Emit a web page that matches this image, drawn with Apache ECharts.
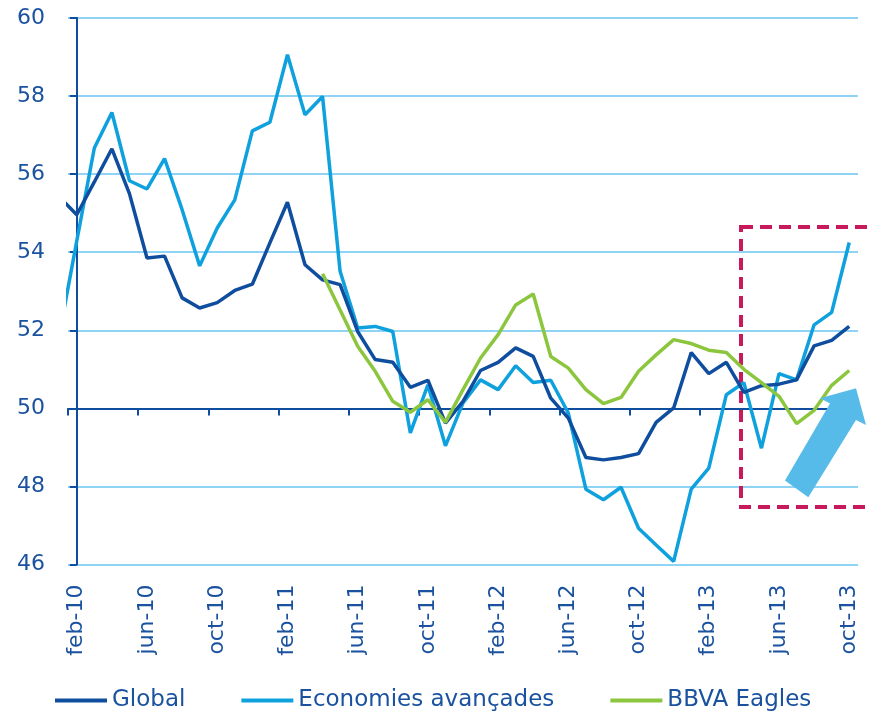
<!DOCTYPE html>
<html>
<head>
<meta charset="utf-8">
<script src="https://cdn.jsdelivr.net/npm/echarts@6/dist/echarts.min.js"></script>
<style>
  html, body { margin: 0; padding: 0; background: #fff; }
  #chart { width: 872px; height: 714px; }
</style>
</head>
<body>
<div id="chart"></div>
<script>
// months, first one (jan-10) sits just left of the plot and is clipped
var months = ['jan-10',
  'feb-10', 'mar-10', 'apr-10', 'may-10', 'jun-10', 'jul-10', 'aug-10', 'sep-10', 'oct-10', 'nov-10', 'dec-10',
  'jan-11', 'feb-11', 'mar-11', 'apr-11', 'may-11', 'jun-11', 'jul-11', 'aug-11', 'sep-11', 'oct-11', 'nov-11', 'dec-11',
  'jan-12', 'feb-12', 'mar-12', 'apr-12', 'may-12', 'jun-12', 'jul-12', 'aug-12', 'sep-12', 'oct-12', 'nov-12', 'dec-12',
  'jan-13', 'feb-13', 'mar-13', 'apr-13', 'may-13', 'jun-13', 'jul-13', 'aug-13', 'sep-13', 'oct-13'];

var seriesNames = ['Global', 'Economies avançades', 'BBVA Eagles'];

var globalPmi = [55.42,
  54.96, 55.80, 56.65, 55.50, 53.85, 53.90, 52.83, 52.57, 52.71, 53.02, 53.18,
  54.24, 55.28, 53.68, 53.29, 53.17, 51.97, 51.25, 51.18, 50.54, 50.72, 49.62, 50.18,
  50.97, 51.18, 51.55, 51.33, 50.26, 49.75, 48.74, 48.68, 48.74, 48.84, 49.64, 50.01,
  51.43, 50.89, 51.18, 50.41, 50.58, 50.62, 50.73, 51.60, 51.74, 52.10];

var advancedPmi = [51.87,
  54.29, 56.67, 57.58, 55.83, 55.62, 56.40, 55.09, 53.65, 54.62, 55.34, 57.11,
  57.33, 59.06, 57.52, 57.99, 53.51, 52.06, 52.10, 51.97, 49.37, 50.60, 49.04, 50.14,
  50.73, 50.48, 51.09, 50.66, 50.72, 49.88, 47.93, 47.66, 47.98, 46.93, 46.50, 46.08,
  47.93, 48.47, 50.35, 50.66, 48.98, 50.89, 50.73, 52.14, 52.46, 54.25];

var eaglesPmi = [null,
  null, null, null, null, null, null, null, null, null, null, null,
  null, null, null, 53.45, 52.52, 51.59, 50.95, 50.18, 49.90, 50.22, 49.64, 50.48,
  51.29, 51.89, 52.65, 52.93, 51.33, 51.03, 50.48, 50.12, 50.28, 50.95, 51.37, 51.76,
  51.66, 51.49, 51.43, 51.00, 50.66, 50.31, 49.61, 49.95, 50.59, 50.97];

var yTicks = [46, 48, 50, 52, 54, 56, 58, 60];

var darkBlue = '#0f4e9e';
var lightBlue = '#0ea1de';
var green = '#8cc63f';
var textBlue = '#1a52a0';
var gridBlue = '#8fd4f4';

// index -1 = jan-10, 0 = feb-10 ...
function toPoints(arr) {
  return arr.map(function (v, i) { return [i - 1, v]; });
}

var chart = echarts.init(document.getElementById('chart'), null, { renderer: 'canvas' });

var option = {
  animation: false,
  backgroundColor: '#fff',
  textStyle: { fontFamily: 'DejaVu Sans' },
  grid: {
    left: 68,
    right: 14,
    top: 18,
    bottom: 149.5,
    containLabel: false,
    outerBoundsMode: 'none'
  },
  legend: {
    left: 50,
    top: 684,
    icon: 'rect',
    itemWidth: 52,
    itemHeight: 4,
    itemGap: 56,
    textStyle: { fontSize: 23, color: textBlue, fontFamily: 'DejaVu Sans' },
    data: seriesNames
  },
  xAxis: [
    {
      // labels only
      type: 'category',
      data: months.slice(1),
      boundaryGap: true,
      position: 'bottom',
      axisLine: { show: false },
      axisTick: { show: false },
      splitLine: { show: false },
      axisLabel: {
        interval: 3,
        rotate: 90,
        margin: 20,
        fontSize: 22,
        color: textBlue,
        fontFamily: 'DejaVu Sans'
      }
    },
    {
      // axis line + ticks crossing at 50
      type: 'category',
      data: months.slice(1),
      boundaryGap: true,
      position: 'bottom',
      offset: -156,
      axisLine: { show: true, lineStyle: { color: darkBlue, width: 2 } },
      axisTick: { show: true, interval: 3, length: 7, lineStyle: { color: darkBlue, width: 2 } },
      axisLabel: { show: false },
      splitLine: { show: false }
    },
    {
      // hidden axis the lines are drawn on
      type: 'value',
      min: -0.5,
      max: 44.5,
      show: false
    }
  ],
  yAxis: {
    type: 'value',
    min: yTicks[0],
    max: yTicks[yTicks.length - 1],
    interval: 2,
    axisLine: { show: true, lineStyle: { color: darkBlue, width: 2 } },
    axisTick: { show: true, length: 7, lineStyle: { color: darkBlue, width: 2 } },
    axisLabel: { fontSize: 22, color: textBlue, margin: 23, fontFamily: 'DejaVu Sans' },
    splitLine: { show: true, lineStyle: { color: gridBlue, width: 2 } }
  },
  series: [
    {
      name: seriesNames[0],
      type: 'line',
      xAxisIndex: 2,
      data: toPoints(globalPmi),
      showSymbol: false,
      symbol: 'none',
      clip: true,
      itemStyle: { color: darkBlue },
      lineStyle: { color: darkBlue, width: 3.5 },
      z: 4
    },
    {
      name: seriesNames[1],
      type: 'line',
      xAxisIndex: 2,
      data: toPoints(advancedPmi),
      showSymbol: false,
      symbol: 'none',
      clip: true,
      itemStyle: { color: lightBlue },
      lineStyle: { color: lightBlue, width: 3.5 },
      z: 3
    },
    {
      name: seriesNames[2],
      type: 'line',
      xAxisIndex: 2,
      data: toPoints(eaglesPmi),
      showSymbol: false,
      symbol: 'none',
      connectNulls: false,
      clip: true,
      itemStyle: { color: green },
      lineStyle: { color: green, width: 3.5 },
      z: 5
    }
  ],
  graphic: [
    {
      // highlight box around the last months
      type: 'rect',
      shape: { x: 741, y: 227, width: 150, height: 280 },
      style: { fill: 'none', stroke: '#c8195c', lineWidth: 4, lineDash: [12, 7] },
      z: 1
    },
    {
      // upward arrow, drawn over the lines
      type: 'polygon',
      shape: {
        points: [[785, 480.5], [830, 403.5], [820, 398.3], [856, 388.3],
                 [866, 425], [856, 420], [808.3, 497.3]]
      },
      style: { fill: '#56bbe9' },
      z: 10
    }
  ]
};

chart.setOption(option);
</script>
</body>
</html>
